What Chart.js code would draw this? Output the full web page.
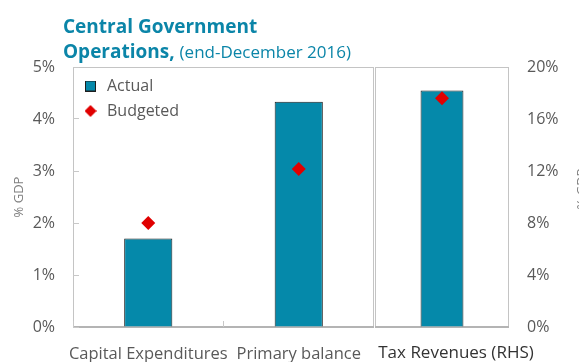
<!DOCTYPE html>
<html>
<head>
<meta charset="utf-8">
<script src="https://cdn.jsdelivr.net/npm/chart.js@4/dist/chart.umd.min.js"></script>
<style>
  body { margin: 0; background: #fff; font-family: 'Open Sans', sans-serif; }
  #wrap { position: relative; width: 579px; height: 362px; overflow: hidden; }
  #title { position: absolute; left: 63px; top: 14px; color: #0b85a8; font-weight: bold; font-size: 19px; line-height: 25px; white-space: nowrap; }
  #title span { font-weight: normal; font-size: 17px; }
  #left { position: absolute; left: 0; top: 0; }
  #right { position: absolute; left: 374px; top: 0; }
</style>
</head>
<body>
<div id="wrap">
  <canvas id="left" width="374" height="362"></canvas>
  <canvas id="right" width="205" height="362"></canvas>
  <div id="title">Central Government<br>Operations, <span>(end-December 2016)</span></div>
</div>
<script>
// % of GDP, left panel on the left axis, tax revenues on the right axis
const leftCategories = ['Capital Expenditures', 'Primary balance'];
const leftActual = [1.7, 4.33];
const leftBudgeted = [2.0, 3.04];
const leftTicks = [0, 1, 2, 3, 4, 5];

const rightCategories = ['Tax Revenues (RHS)'];
const rightActual = [18.2];
const rightBudgeted = [17.6];
const rightTicks = [0, 4, 8, 12, 16, 20];

const TEAL = '#0589aa';
const RED = '#e00000';
const GREY = '#595959';
const FONT = 'Open Sans';

// small legend markers
function marker(size, draw) {
    const c = document.createElement('canvas');
    c.width = c.height = size;
    draw(c.getContext('2d'), size);
    return c;
}
const squareMarker = marker(11, (ctx, s) => {
    ctx.fillStyle = TEAL;
    ctx.fillRect(0, 0, s, s);
    ctx.strokeStyle = '#1e1e1e';
    ctx.lineWidth = 1;
    ctx.strokeRect(0.5, 0.5, s - 1, s - 1);
});
const diamondMarker = marker(12, (ctx, s) => {
    ctx.fillStyle = RED;
    ctx.beginPath();
    ctx.moveTo(s / 2, 0);
    ctx.lineTo(s, s / 2);
    ctx.lineTo(s / 2, s);
    ctx.lineTo(0, s / 2);
    ctx.closePath();
    ctx.fill();
});

// grey box round the plot area
const frame = {
    id: 'frame',
    beforeDraw(chart) {
        const { ctx, chartArea: a } = chart;
        ctx.save();
        ctx.strokeStyle = '#c4c4c4';
        ctx.lineWidth = 1;
        ctx.strokeRect(a.left + 0.5, a.top + 0.5, a.right - a.left - 1, a.bottom - a.top - 1);
        ctx.strokeStyle = '#b4b4b4';
        ctx.lineWidth = 2;
        ctx.beginPath();
        ctx.moveTo(a.left, a.bottom);
        ctx.lineTo(a.right, a.bottom);
        ctx.stroke();
        ctx.restore();
    }
};

// keep the vertical legend inside the plot area, below its top edge
const legendInPlot = {
    id: 'legendInPlot',
    afterLayout(chart) {
        const l = chart.legend, a = chart.chartArea;
        if (!l) return;
        l.top = a.top + 2;
        l.bottom = a.bottom;
    }
};

// right axis title, read bottom to top
const rhsTitle = {
    id: 'rhsTitle',
    afterDraw(chart) {
        const { ctx, chartArea: a } = chart;
        ctx.save();
        ctx.translate(202, (a.top + a.bottom) / 2 - 8);
        ctx.rotate(-Math.PI / 2);
        ctx.font = `13px "${FONT}"`;
        ctx.fillStyle = '#7f7f7f';
        ctx.textAlign = 'center';
        ctx.textBaseline = 'top';
        ctx.fillText('% GDP', 0, 0);
        ctx.restore();
    }
};

const barStyle = {
    backgroundColor: TEAL,
    borderColor: '#1e1e1e',
    borderWidth: 1,
    categoryPercentage: 0.8,
    barPercentage: 0.4,
    order: 2
};
const pointStyle = {
    showLine: false,
    pointStyle: 'rectRot',
    pointRadius: 7,
    pointHoverRadius: 7,
    pointBorderWidth: 0,
    pointBackgroundColor: RED,
    backgroundColor: RED,
    borderColor: RED,
    order: 1
};

// category axis that never widens itself for long labels
function fixedX(height) {
    return s => {
        s.height = height;
        s.paddingLeft = 0;
        s.paddingRight = 0;
    };
}

new Chart(document.getElementById('left'), {
    data: {
        labels: leftCategories,
        datasets: [
            { type: 'bar', label: 'Actual', data: leftActual, ...barStyle },
            { type: 'line', label: 'Budgeted', data: leftBudgeted, ...pointStyle }
        ]
    },
    options: {
        responsive: false,
        animation: false,
        layout: { autoPadding: false, padding: { top: 67, right: 0, left: 0, bottom: 0 } },
        plugins: {
            tooltip: { enabled: false },
            legend: {
                position: 'chartArea',
                align: 'start',
                labels: {
                    usePointStyle: true,
                    pointStyleWidth: 17,
                    padding: 9,
                    color: GREY,
                    font: { family: FONT, size: 16 },
                    generateLabels(chart) {
                        const items = Chart.defaults.plugins.legend.labels.generateLabels(chart);
                        items.sort((a, b) => a.datasetIndex - b.datasetIndex);
                        items.forEach(it => {
                            it.pointStyle = it.datasetIndex === 0 ? squareMarker : diamondMarker;
                        });
                        return items;
                    }
                }
            }
        },
        scales: {
            x: {
                grid: { drawOnChartArea: false, tickLength: -6, color: '#c8c8c8' },
                border: { display: false },
                ticks: { color: GREY, font: { family: FONT, size: 16.5 }, padding: 23, maxRotation: 0, autoSkip: false },
                afterFit: fixedX(35)
            },
            y: {
                min: 0,
                max: 5,
                afterBuildTicks(s) { s.ticks = leftTicks.map(v => ({ value: v })); },
                grid: { drawOnChartArea: false, tickLength: -6, color: '#c8c8c8' },
                border: { display: false },
                ticks: { color: GREY, font: { family: FONT, size: 16 }, padding: 24, callback: v => v + '%' },
                title: { display: true, text: '% GDP', color: '#7f7f7f', font: { family: FONT, size: 13 }, padding: { top: 11, bottom: 0 } },
                afterFit(s) { s.width = 73; }
            }
        }
    },
    plugins: [frame, legendInPlot]
});

new Chart(document.getElementById('right'), {
    data: {
        labels: rightCategories,
        datasets: [
            { type: 'bar', label: 'Actual', data: rightActual, ...barStyle },
            { type: 'line', label: 'Budgeted', data: rightBudgeted, ...pointStyle }
        ]
    },
    options: {
        responsive: false,
        animation: false,
        layout: { autoPadding: false, padding: { top: 67, right: 0, left: 1, bottom: 0 } },
        plugins: {
            tooltip: { enabled: false },
            legend: { display: false }
        },
        scales: {
            x: {
                grid: { drawOnChartArea: false, drawTicks: false },
                border: { display: false },
                ticks: { color: '#333', font: { family: FONT, size: 17 }, padding: 16, labelOffset: 14, maxRotation: 0, autoSkip: false },
                afterFit: fixedX(35)
            },
            y: {
                position: 'right',
                min: 0,
                max: 20,
                afterBuildTicks(s) { s.ticks = rightTicks.map(v => ({ value: v })); },
                grid: { drawOnChartArea: false, drawTicks: false },
                border: { display: false },
                ticks: { color: GREY, font: { family: FONT, size: 16 }, padding: 18, callback: v => v + '%' },
                afterFit(s) { s.width = 70; }
            }
        }
    },
    plugins: [frame, rhsTitle]
});
</script>
</body>
</html>
